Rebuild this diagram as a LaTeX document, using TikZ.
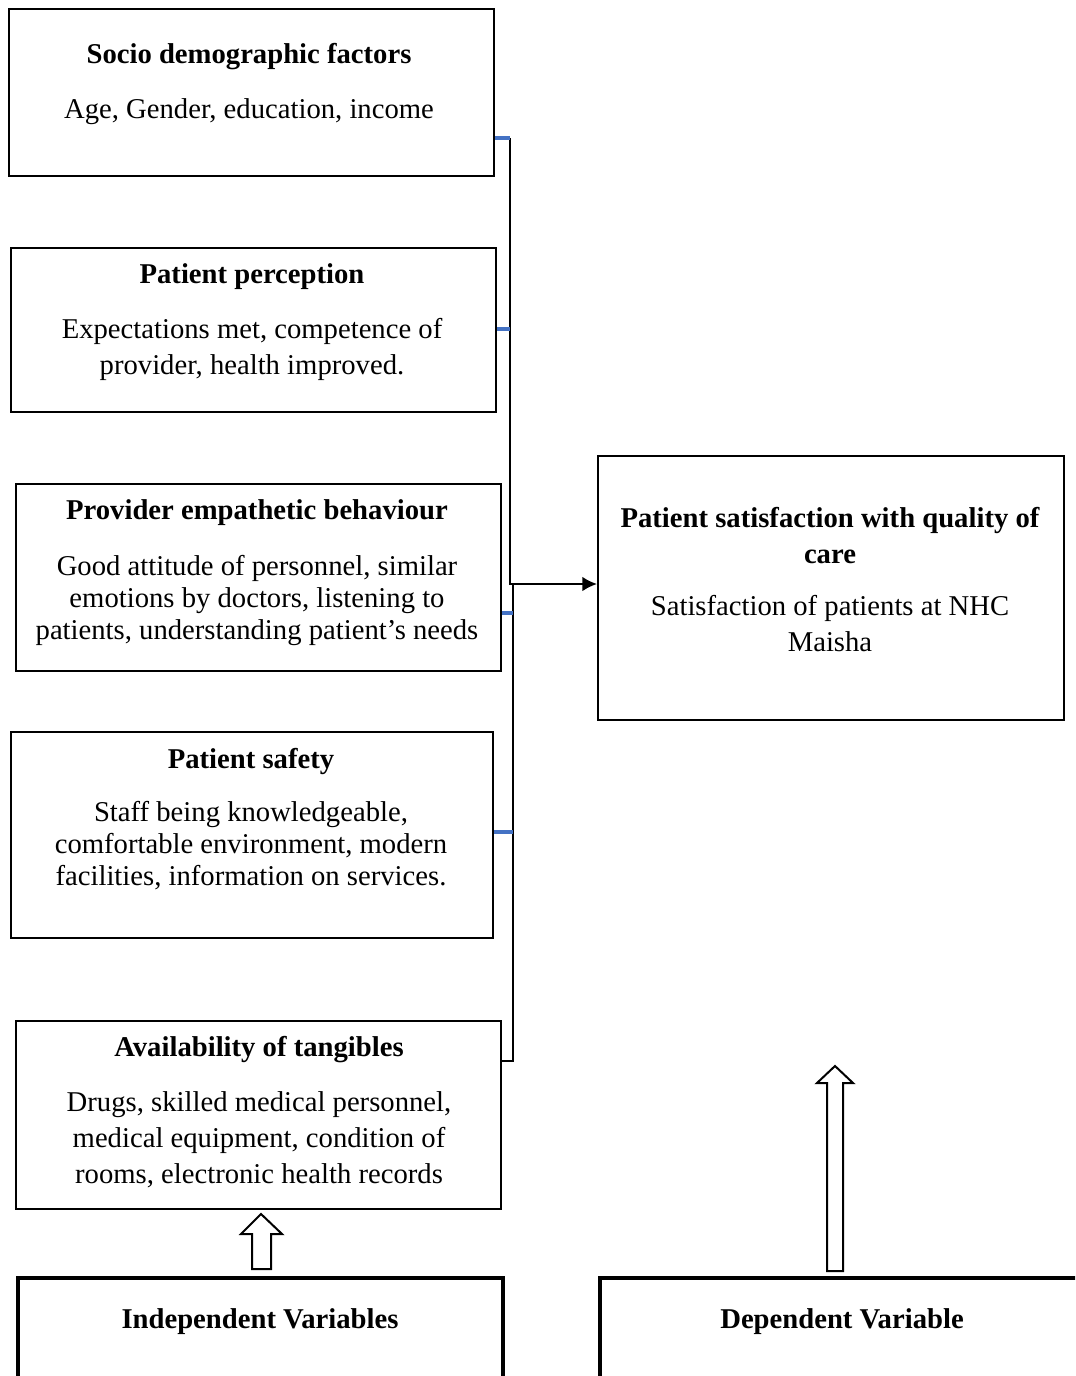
\documentclass[tikz,border=0pt]{standalone}
\usepackage{fontspec}
\setmainfont{Liberation Serif}
\usetikzlibrary{arrows.meta}
\begin{document}
\begin{tikzpicture}[x=0.75pt,y=-0.75pt,
  box/.style={draw,line width=1.5pt,inner sep=0pt},
  thickbox/.style={draw,line width=3pt,inner sep=0pt},
  ttl/.style={font=\fontsize{21.5}{27}\selectfont\bfseries,align=center,inner sep=0pt},
  bodyA/.style={font=\fontsize{21.5}{27}\selectfont,align=center,inner sep=0pt},
  bodyB/.style={font=\fontsize{21.5}{24}\selectfont,align=center,inner sep=0pt},
  conn/.style={line width=1.5pt},
  tick/.style={line width=2.5pt,draw={rgb,255:red,68;green,114;blue,196}},
  blockarrow/.style={draw,line width=1.5pt,fill=white,line join=miter}]
\clip (0,0) rectangle (1075,1376);
\fill[white] (0,0) rectangle (1075,1376);
% boxes
\node[box,minimum width=485*0.75pt,minimum height=167*0.75pt] (s1) at (251.5,92.5) {};
\node[box,minimum width=485*0.75pt,minimum height=164*0.75pt] (s2) at (253.5,330) {};
\node[box,minimum width=485*0.75pt,minimum height=187*0.75pt] (s3) at (258.5,577.5) {};
\node[box,minimum width=482*0.75pt,minimum height=206*0.75pt] (s4) at (252,835) {};
\node[box,minimum width=485*0.75pt,minimum height=188*0.75pt] (s5) at (258.5,1115) {};
\node[box,minimum width=466*0.75pt,minimum height=264*0.75pt] (dv) at (831,588) {};
\node[thickbox,minimum width=485*0.75pt,minimum height=140*0.75pt] (iv) at (260.5,1348) {};
\node[thickbox,minimum width=500*0.75pt,minimum height=140*0.75pt] (dep) at (850,1348) {};
% texts
\node[ttl] (t1) at (249,57) {Socio demographic factors};
\node[bodyA] (b1) at (249,112) {Age, Gender, education, income};
\node[ttl] (t2) at (252,277) {Patient perception};
\node[bodyA] (b2) at (252,349) {Expectations met, competence of\\provider, health improved.};
\node[ttl] (t3) at (257,513) {Provider empathetic behaviour};
\node[bodyB] (b3) at (257,600) {Good attitude of personnel, similar\\emotions by doctors, listening to\\patients, understanding patient’s needs};
\node[ttl] (t4) at (251,761) {Patient safety};
\node[bodyB] (b4) at (251,846) {Staff being knowledgeable,\\comfortable environment, modern\\facilities, information on services.};
\node[ttl] (t5) at (259,1050) {Availability of tangibles};
\node[bodyA] (b5) at (259,1140) {Drugs, skilled medical personnel,\\medical equipment, condition of\\rooms, electronic health records};
\node[ttl] (t6) at (830,536) {Patient satisfaction with quality of\\care};
\node[bodyA] (b6) at (830,624) {Satisfaction of patients at NHC\\Maisha};
\node[ttl] (t7) at (260,1322) {Independent Variables};
\node[ttl] (t8) at (842,1322) {Dependent Variable};
% connector bracket
\coordinate (top) at (510,138);
\coordinate (join) at (510,584);
\coordinate (jog) at (513,584);
\coordinate (bot) at (513,1061);
\draw[conn] (top) -- (join) -- (jog) -- (bot) -- (s5.east |- bot);
\draw[conn,-{Latex[length=11pt,width=11pt]}] (join) -- (dv.west |- join);
\draw[tick] (s1.east |- top) -- (top);
\draw[tick] (s2.east |- 0,329) -- (510,329);
\draw[tick] (s3.east |- 0,613) -- (513,613);
\draw[tick] (s4.east |- 0,832) -- (513,832);
% hollow block arrows
\draw[blockarrow] (252,1269) -- (252,1234) -- (241,1234) -- (261,1214) -- (282,1234) -- (271,1234) -- (271,1269) -- cycle;
\draw[blockarrow] (827,1271) -- (827,1083) -- (817,1083) -- (835,1066) -- (853,1083) -- (843,1083) -- (843,1271) -- cycle;
\end{tikzpicture}
\end{document}
